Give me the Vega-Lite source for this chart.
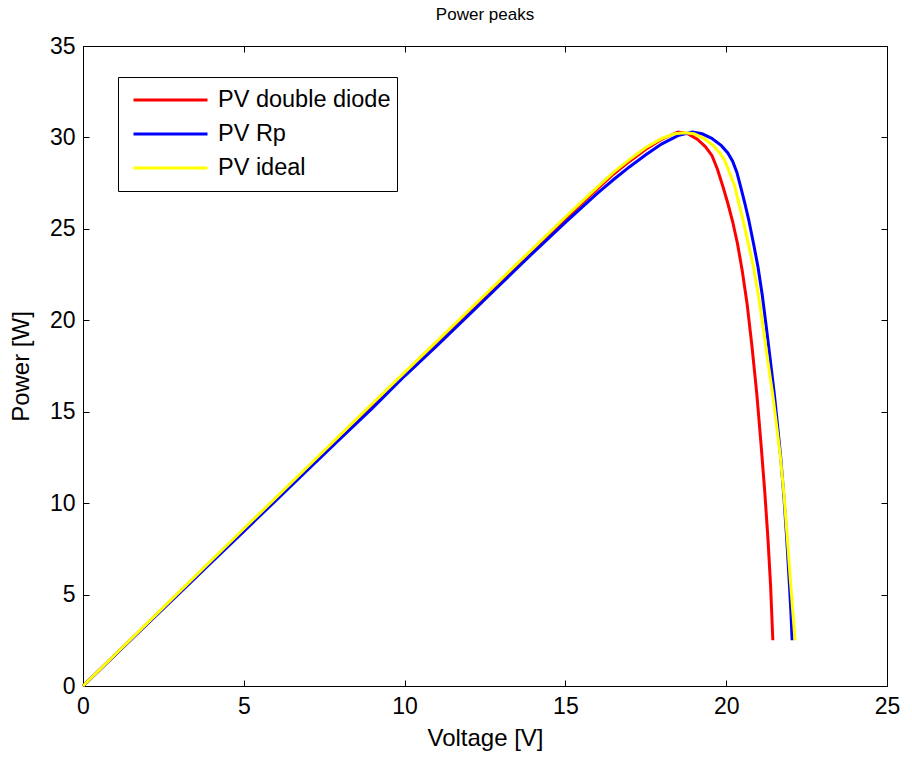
{
  "$schema": "https://vega.github.io/schema/vega-lite/v6.json",
  "width": 804,
  "height": 640,
  "autosize": "none",
  "padding": {"left": 83, "top": 46, "right": 25, "bottom": 72},
  "background": "white",
  "config": {
    "view": {"stroke": "black", "strokeWidth": 1},
    "font": "Liberation Sans"
  },
  "title": {"text": "Power peaks", "fontSize": 17, "fontWeight": "normal", "color": "black", "offset": 11, "font": "Liberation Sans"},
  "data": {"values": [
    {"s":"PV double diode","V":0,"P":0},{"s":"PV double diode","V":1,"P":1.71},{"s":"PV double diode","V":2,"P":3.42},{"s":"PV double diode","V":3,"P":5.12},{"s":"PV double diode","V":4,"P":6.83},{"s":"PV double diode","V":5,"P":8.54},{"s":"PV double diode","V":6,"P":10.25},{"s":"PV double diode","V":7,"P":11.95},{"s":"PV double diode","V":8,"P":13.65},{"s":"PV double diode","V":9,"P":15.35},{"s":"PV double diode","V":10,"P":17.05},{"s":"PV double diode","V":11,"P":18.75},{"s":"PV double diode","V":12,"P":20.45},{"s":"PV double diode","V":13,"P":22.15},{"s":"PV double diode","V":14,"P":23.85},{"s":"PV double diode","V":15,"P":25.55},{"s":"PV double diode","V":16,"P":27.2},{"s":"PV double diode","V":16.5,"P":28.0},{"s":"PV double diode","V":17,"P":28.7},{"s":"PV double diode","V":17.5,"P":29.35},{"s":"PV double diode","V":18,"P":29.9},{"s":"PV double diode","V":18.5,"P":30.3},{"s":"PV double diode","V":18.8,"P":30.2},{"s":"PV double diode","V":19.1,"P":29.9},{"s":"PV double diode","V":19.35,"P":29.5},{"s":"PV double diode","V":19.56,"P":29.0},{"s":"PV double diode","V":19.73,"P":28.25},{"s":"PV double diode","V":19.9,"P":27.3},{"s":"PV double diode","V":20.05,"P":26.4},{"s":"PV double diode","V":20.2,"P":25.4},{"s":"PV double diode","V":20.35,"P":24.2},{"s":"PV double diode","V":20.5,"P":22.7},{"s":"PV double diode","V":20.65,"P":20.9},{"s":"PV double diode","V":20.8,"P":18.6},{"s":"PV double diode","V":20.95,"P":16.0},{"s":"PV double diode","V":21.08,"P":13.3},{"s":"PV double diode","V":21.2,"P":10.6},{"s":"PV double diode","V":21.3,"P":8.0},{"s":"PV double diode","V":21.38,"P":5.5},{"s":"PV double diode","V":21.45,"P":2.5},
    {"s":"PV Rp","V":0,"P":0},{"s":"PV Rp","V":1,"P":1.7},{"s":"PV Rp","V":2,"P":3.39},{"s":"PV Rp","V":3,"P":5.08},{"s":"PV Rp","V":4,"P":6.77},{"s":"PV Rp","V":5,"P":8.46},{"s":"PV Rp","V":6,"P":10.15},{"s":"PV Rp","V":7,"P":11.84},{"s":"PV Rp","V":8,"P":13.52},{"s":"PV Rp","V":9,"P":15.2},{"s":"PV Rp","V":10,"P":16.95},{"s":"PV Rp","V":11,"P":18.6},{"s":"PV Rp","V":12,"P":20.3},{"s":"PV Rp","V":13,"P":22.0},{"s":"PV Rp","V":14,"P":23.7},{"s":"PV Rp","V":15,"P":25.35},{"s":"PV Rp","V":16,"P":26.95},{"s":"PV Rp","V":16.5,"P":27.7},{"s":"PV Rp","V":17,"P":28.4},{"s":"PV Rp","V":17.5,"P":29.05},{"s":"PV Rp","V":18,"P":29.65},{"s":"PV Rp","V":18.5,"P":30.1},{"s":"PV Rp","V":18.95,"P":30.3},{"s":"PV Rp","V":19.25,"P":30.2},{"s":"PV Rp","V":19.55,"P":29.95},{"s":"PV Rp","V":19.85,"P":29.55},{"s":"PV Rp","V":20.05,"P":29.15},{"s":"PV Rp","V":20.2,"P":28.7},{"s":"PV Rp","V":20.33,"P":28.1},{"s":"PV Rp","V":20.45,"P":27.3},{"s":"PV Rp","V":20.58,"P":26.4},{"s":"PV Rp","V":20.7,"P":25.5},{"s":"PV Rp","V":20.86,"P":24.1},{"s":"PV Rp","V":20.99,"P":22.9},{"s":"PV Rp","V":21.12,"P":21.4},{"s":"PV Rp","V":21.25,"P":19.6},{"s":"PV Rp","V":21.38,"P":17.7},{"s":"PV Rp","V":21.5,"P":15.9},{"s":"PV Rp","V":21.6,"P":14.2},{"s":"PV Rp","V":21.7,"P":12.4},{"s":"PV Rp","V":21.8,"P":10.2},{"s":"PV Rp","V":21.88,"P":8.1},{"s":"PV Rp","V":21.96,"P":5.7},{"s":"PV Rp","V":22.01,"P":4.1},{"s":"PV Rp","V":22.05,"P":2.5},
    {"s":"PV ideal","V":0,"P":0},{"s":"PV ideal","V":1,"P":1.72},{"s":"PV ideal","V":2,"P":3.44},{"s":"PV ideal","V":3,"P":5.16},{"s":"PV ideal","V":4,"P":6.88},{"s":"PV ideal","V":5,"P":8.6},{"s":"PV ideal","V":6,"P":10.3},{"s":"PV ideal","V":7,"P":12.02},{"s":"PV ideal","V":8,"P":13.73},{"s":"PV ideal","V":9,"P":15.45},{"s":"PV ideal","V":10,"P":17.15},{"s":"PV ideal","V":11,"P":18.85},{"s":"PV ideal","V":12,"P":20.55},{"s":"PV ideal","V":13,"P":22.25},{"s":"PV ideal","V":14,"P":23.95},{"s":"PV ideal","V":15,"P":25.65},{"s":"PV ideal","V":16,"P":27.3},{"s":"PV ideal","V":16.5,"P":28.1},{"s":"PV ideal","V":17,"P":28.8},{"s":"PV ideal","V":17.5,"P":29.45},{"s":"PV ideal","V":18,"P":29.95},{"s":"PV ideal","V":18.4,"P":30.2},{"s":"PV ideal","V":18.7,"P":30.25},{"s":"PV ideal","V":19.0,"P":30.2},{"s":"PV ideal","V":19.3,"P":29.95},{"s":"PV ideal","V":19.6,"P":29.55},{"s":"PV ideal","V":19.8,"P":29.15},{"s":"PV ideal","V":19.95,"P":28.75},{"s":"PV ideal","V":20.1,"P":28.1},{"s":"PV ideal","V":20.27,"P":27.3},{"s":"PV ideal","V":20.4,"P":26.35},{"s":"PV ideal","V":20.52,"P":25.5},{"s":"PV ideal","V":20.7,"P":24.1},{"s":"PV ideal","V":20.85,"P":22.9},{"s":"PV ideal","V":21.0,"P":21.4},{"s":"PV ideal","V":21.15,"P":19.6},{"s":"PV ideal","V":21.3,"P":17.7},{"s":"PV ideal","V":21.45,"P":15.9},{"s":"PV ideal","V":21.57,"P":14.2},{"s":"PV ideal","V":21.68,"P":12.6},{"s":"PV ideal","V":21.8,"P":10.4},{"s":"PV ideal","V":21.9,"P":8.1},{"s":"PV ideal","V":22.0,"P":5.7},{"s":"PV ideal","V":22.07,"P":4.1},{"s":"PV ideal","V":22.14,"P":2.5}
  ]},
  "resolve": {"axis": {"x": "independent", "y": "independent"}},
  "layer": [
    {
      "mark": {"type": "line", "strokeWidth": 3},
      "encoding": {
        "x": {"field": "V", "type": "quantitative", "scale": {"domain": [0, 25], "nice": false, "zero": false},
          "axis": {"orient": "bottom", "values": [0,5,10,15,20,25], "grid": false, "domain": false, "tickSize": -6, "tickColor": "black", "labelColor": "black", "labelFontSize": 23, "labelPadding": 15, "labelFlush": false, "labelFont": "Liberation Sans", "title": "Voltage [V]", "titleFontSize": 24, "titleFontWeight": "normal", "titleColor": "black", "titleFont": "Liberation Sans", "titlePadding": 8}},
        "y": {"field": "P", "type": "quantitative", "scale": {"domain": [0, 35], "nice": false, "zero": false},
          "axis": {"orient": "left", "values": [0,5,10,15,20,25,30,35], "grid": false, "domain": false, "tickSize": -6, "tickColor": "black", "labelColor": "black", "labelFontSize": 23, "labelPadding": 14, "labelFlush": false, "labelFont": "Liberation Sans", "title": "Power [W]", "titleFontSize": 24, "titleFontWeight": "normal", "titleColor": "black", "titleFont": "Liberation Sans", "titlePadding": 16}},
        "color": {"field": "s", "type": "nominal",
          "scale": {"domain": ["PV double diode", "PV Rp", "PV ideal"], "range": ["#ff0000", "#0000ff", "#ffff00"]},
          "legend": {"title": null, "orient": "none", "legendX": 35, "legendY": 31, "strokeColor": "black", "fillColor": "white", "padding": 6, "symbolType": "stroke", "symbolSize": 5476, "symbolStrokeWidth": 3, "clipHeight": 34, "rowPadding": 0, "labelFontSize": 23.5, "labelLimit": 400, "labelFont": "Liberation Sans", "labelColor": "black", "labelOffset": 9, "symbolOffset": 8}
        }
      }
    },
    {
      "mark": {"type": "line", "opacity": 0},
      "encoding": {
        "x": {"field": "V", "type": "quantitative", "axis": {"orient": "top", "values": [0,5,10,15,20,25], "grid": false, "domain": false, "labels": false, "title": null, "tickSize": -6, "tickColor": "black"}},
        "y": {"field": "P", "type": "quantitative", "axis": {"orient": "right", "values": [0,5,10,15,20,25,30,35], "grid": false, "domain": false, "labels": false, "title": null, "tickSize": -6, "tickColor": "black"}},
        "detail": {"field": "s"}
      }
    }
  ]
}
